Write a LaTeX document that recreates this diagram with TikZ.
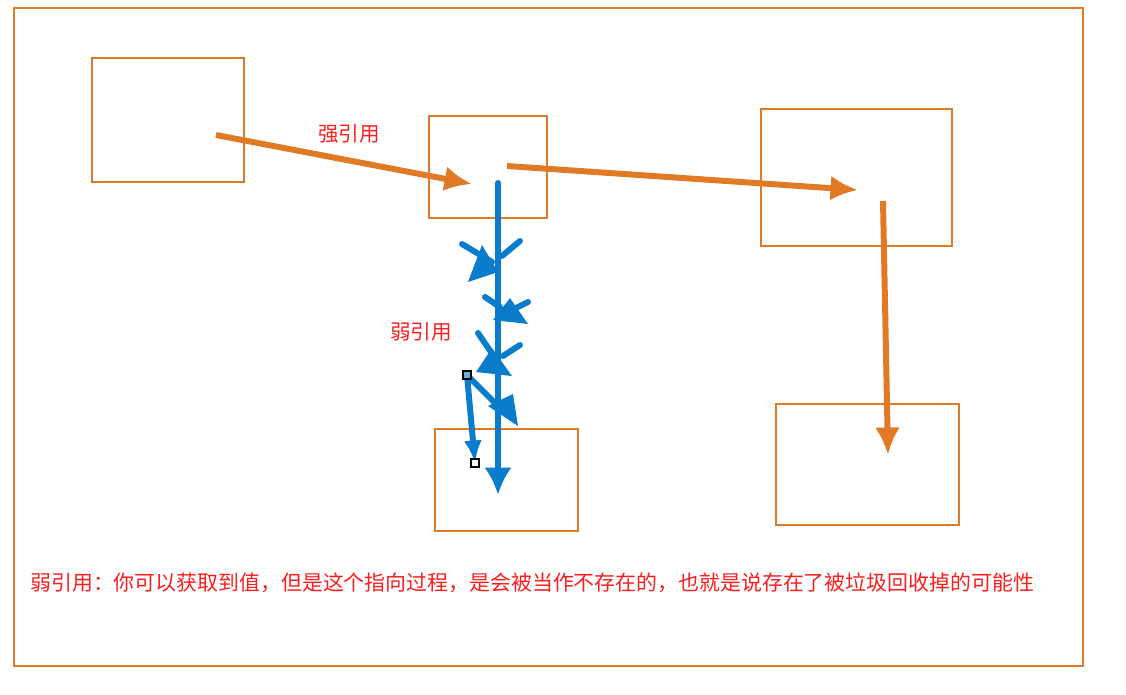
\documentclass[tikz,border=0pt]{standalone}
\usepackage{fontspec}
\newfontfamily\cjk{Noto Sans CJK SC}
\usetikzlibrary{arrows.meta}
\definecolor{frameorange}{RGB}{224,122,36}
\definecolor{refblue}{RGB}{10,124,204}
\definecolor{refred}{RGB}{250,30,30}

\tikzset{
    box/.style={draw=frameorange, line width=1.3pt},
    strong/.style={draw=frameorange, line width=3.4pt, -{Latex[length=0.55cm,width=0.5cm]}},
    weak/.style={draw=refblue, line width=3.4pt, line cap=round},
    label/.style={text=refred, font=\cjk\fontsize{11.7pt}{14pt}\selectfont, inner sep=0pt},
    handle/.style={draw=black, fill=white, line width=0.6pt, minimum size=0.16cm, inner sep=0pt}
}

\begin{document}
\begin{tikzpicture}[x=0.02cm, y=-0.02cm]
        \useasboundingbox (0,0) rectangle (1126,694);

        % frame and boxes
        \draw[box] (14,8) rectangle (1083,666);
        \draw[box] (92,58) rectangle (244,182);
        \draw[box] (429,116) rectangle (547,218);
        \draw[box] (761,109) rectangle (952,246);
        \draw[box] (435,429) rectangle (578,531);
        \draw[box] (776,404) rectangle (959,525);

        \coordinate (s1) at (216,135);
        \coordinate (t1) at (472,184);
        \coordinate (s2) at (507,166);
        \coordinate (t2) at (858,190);
        \coordinate (s3) at (883,201);
        \coordinate (t3) at (888,455);

        \draw[strong] (s1) -- (t1);
        \draw[strong] (s2) -- (t2);
        \draw[strong] (s3) -- (t3);

        \node[label] (strongtxt) at (349,134) {强引用};
        \node[label] (weaktxt) at (421,332) {弱引用};

        % the weak arrow
        \coordinate (w1) at (498,183);
        \coordinate (w2) at (498,495);
        \draw[weak, -{Latex[length=0.55cm,width=0.55cm]}] (w1) -- (w2);

        % stray heads along it
        \draw[weak] (462,244) -- (492,262);
        \draw[weak] (520,241) -- (502,256);
        \fill[refblue] (468,282) -- (482,245) -- (498,272) -- cycle;

        \draw[weak] (485,297) -- (500,307);
        \draw[weak] (528,302) -- (508,312);
        \fill[refblue] (493,320) -- (510,298) -- (528,324) -- cycle;

        \draw[weak] (478,333) -- (495,358);
        \draw[weak] (520,345) -- (503,356);
        \fill[refblue] (476,372) -- (492,348) -- (512,376) -- cycle;

        \coordinate (h1) at (467,375);
        \coordinate (h2) at (475,463);
        \draw[weak] (h1) -- (497,405);
        \fill[refblue] (488,406) -- (513,394) -- (518,426) -- cycle;
        \draw[weak, -{Latex[length=0.45cm,width=0.36cm]}] (h1) -- (h2);
        \node[handle, fill=refblue!60] (hd1) at (h1) {};
        \node[handle] (hd2) at (h2) {};

        \node[label, anchor=west, font=\cjk\fontsize{11.9pt}{14pt}\selectfont] (note) at (30,583)
            {弱引用：你可以获取到值，但是这个指向过程，是会被当作不存在的，也就是说存在了被垃圾回收掉的可能性};
    \end{tikzpicture}
\end{document}
